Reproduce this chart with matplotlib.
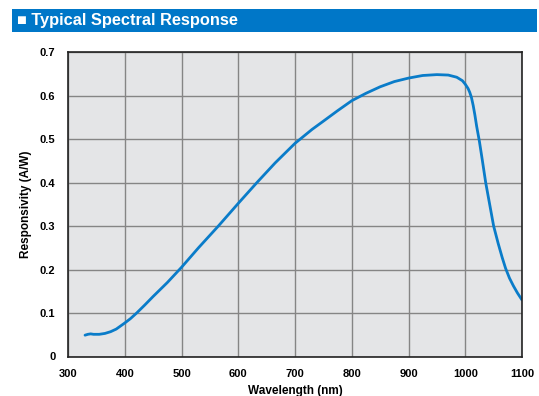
import matplotlib
matplotlib.use('Agg')
import matplotlib.pyplot as plt
from matplotlib.patches import Rectangle

# values
wavelength = [330, 335, 340, 345, 355, 365, 375, 385, 400, 410, 421, 435,
              450, 475, 500, 530, 565, 600, 633, 665, 700, 730, 750, 775,
              800, 825, 850, 875, 900, 925, 950, 970, 985, 995, 1000, 1005,
              1008, 1011, 1014, 1017, 1020, 1025, 1030, 1036, 1043, 1050,
              1058, 1065, 1071, 1078, 1085, 1092, 1100]
responsivity = [0.049, 0.051, 0.052, 0.051, 0.051, 0.053, 0.057, 0.063,
                0.077, 0.087, 0.100, 0.118, 0.138, 0.170, 0.205, 0.250,
                0.300, 0.352, 0.400, 0.445, 0.490, 0.522, 0.541, 0.565,
                0.588, 0.605, 0.620, 0.632, 0.640, 0.646, 0.648, 0.647,
                0.642, 0.634, 0.626, 0.616, 0.607, 0.595, 0.577, 0.555,
                0.530, 0.494, 0.452, 0.400, 0.350, 0.300, 0.260, 0.228,
                0.203, 0.180, 0.162, 0.146, 0.130]
xticks = [300, 400, 500, 600, 700, 800, 900, 1000, 1100]
yticks = [0, 0.1, 0.2, 0.3, 0.4, 0.5, 0.6, 0.7]
ytick_labels = ['0', '0.1', '0.2', '0.3', '0.4', '0.5', '0.6', '0.7']

plt.rcParams['font.family'] = ['Liberation Sans', 'DejaVu Sans']

W, H = 539, 396
fig = plt.figure(figsize=(W / 100, H / 100), dpi=100)
fig.patch.set_facecolor('white')

# title bar
fig.patches.append(Rectangle((12 / W, 1 - 32 / H), (W - 14) / W, 23 / H,
                             transform=fig.transFigure, facecolor='#0077c8',
                             edgecolor='none'))
fig.text(17 / W, 1 - 20.5 / H, '\u25a0 Typical Spectral Response', color='white',
         fontsize=11.8, fontweight='bold', va='center', ha='left',
         family=['Liberation Sans', 'DejaVu Sans'])

ax = fig.add_axes([68 / W, 1 - 356.5 / H, 454 / W, 304.5 / H])
ax.set_facecolor('#e4e5e7')
ax.plot(wavelength, responsivity, color='#0a7cc9', lw=2,
        solid_capstyle='round', solid_joinstyle='round')

ax.set_xlim(300, 1100)
ax.set_ylim(0, 0.7)
ax.set_xticks(xticks)
ax.set_yticks(yticks)
ax.set_yticklabels(ytick_labels)
ax.grid(True, color='#858585', lw=1)
ax.set_axisbelow(True)
ax.tick_params(length=0, labelsize=8, pad=9)
for lab in ax.get_xticklabels() + ax.get_yticklabels():
    lab.set_fontweight('bold')
for s in ax.spines.values():
    s.set_color('#222222')
    s.set_linewidth(1.2)

ax.set_xlabel('Wavelength (nm)', fontsize=8.5, fontweight='bold', labelpad=4)
ax.set_ylabel('Responsivity (A/W)', fontsize=8.5, fontweight='bold', labelpad=6)

fig.savefig('out.png', dpi=100)
